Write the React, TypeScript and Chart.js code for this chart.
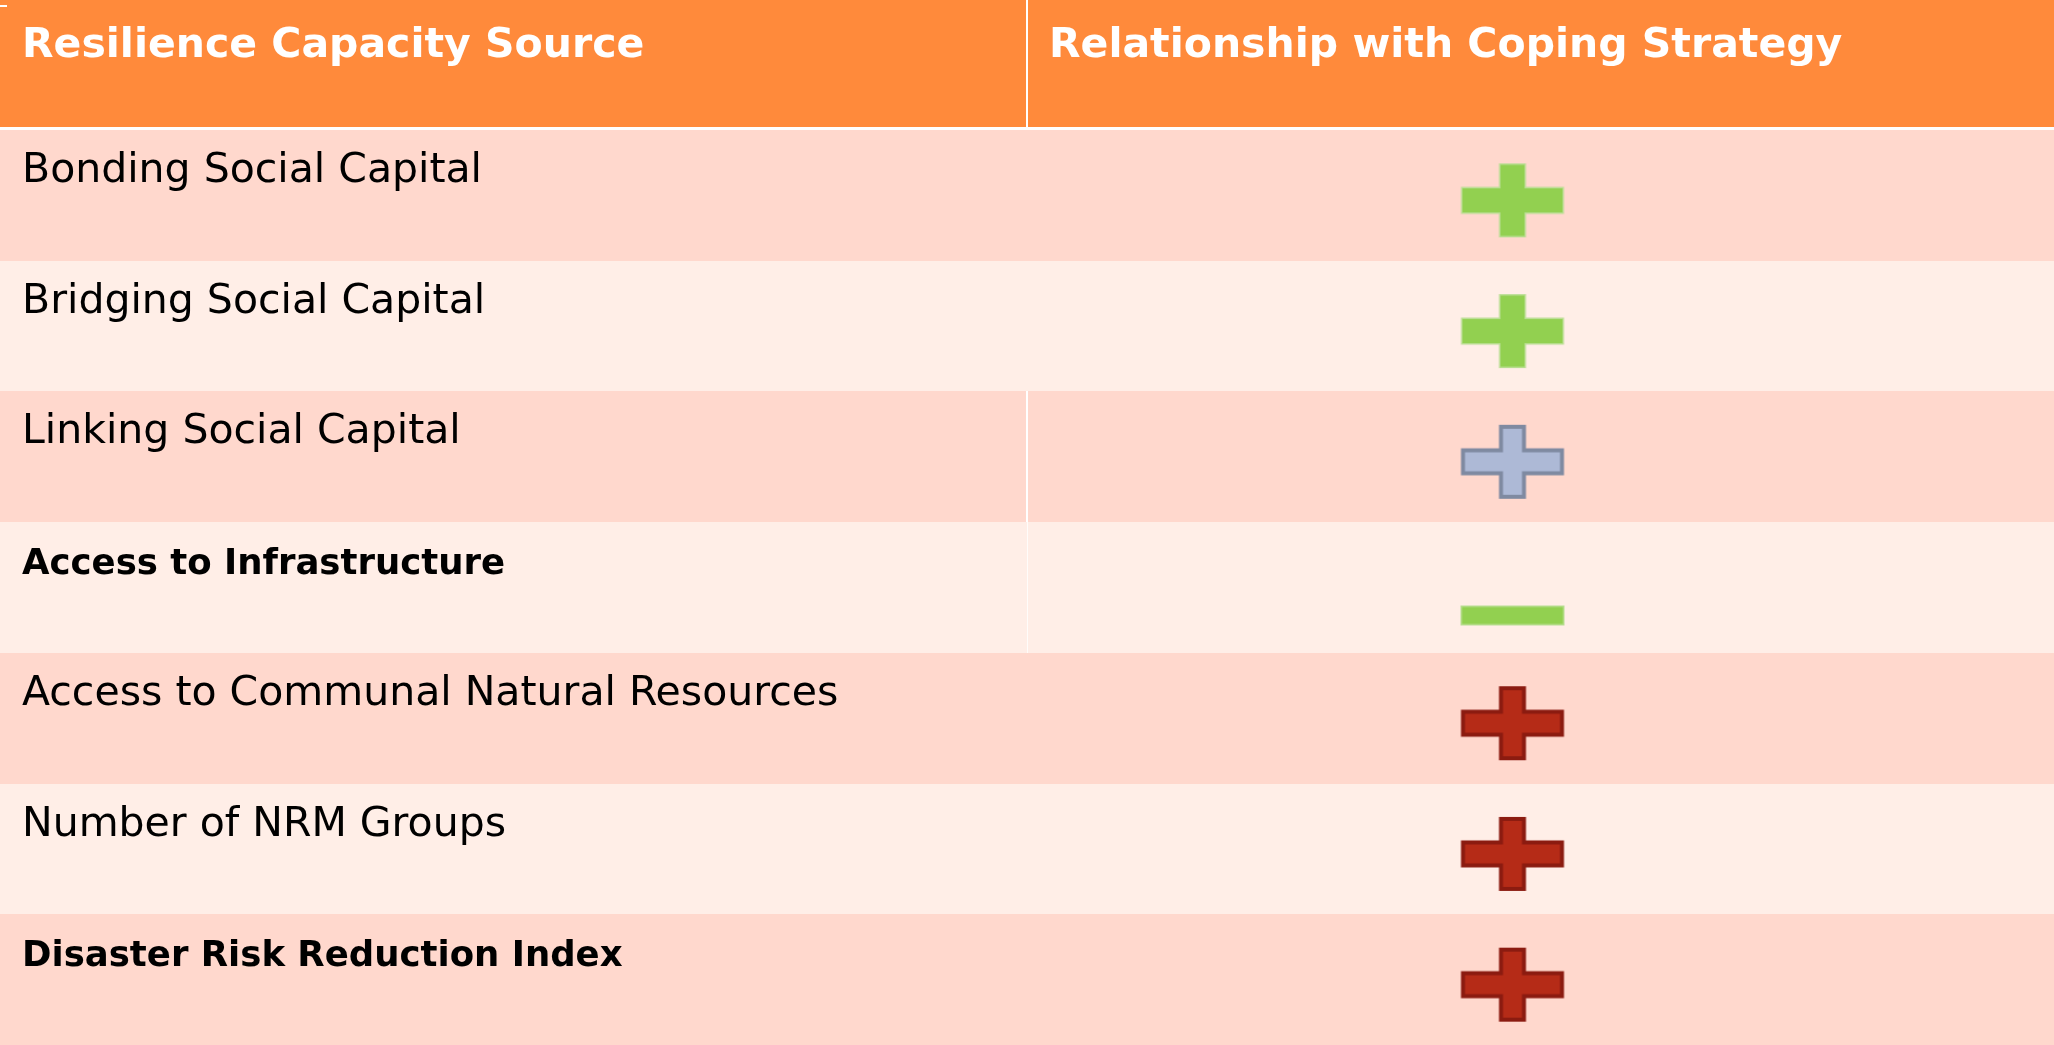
import React, { useEffect, useRef } from 'react';
import { Chart, registerables } from 'chart.js';

Chart.register(...registerables);

// ---- data ----
const columnHeaders = ['Resilience Capacity Source', 'Relationship with Coping Strategy'];
const sources = [
  'Bonding Social Capital',
  'Bridging Social Capital',
  'Linking Social Capital',
  'Access to Infrastructure',
  'Access to Communal Natural Resources',
  'Number of NRM Groups',
  'Disaster Risk Reduction Index',
];
const relationSign = ['+', '+', '+', '-', '+', '+', '+'];
const relationColour = ['green', 'green', 'blue', 'green', 'red', 'red', 'red'];
const emphasised = [false, false, false, true, false, false, true];

// ---- styles ----
const W = 2054;
const H = 1045;
const HEADER_H = 130;
const FONT = '"DejaVu Sans", "Liberation Sans", sans-serif';
const COLOURS = {
  header: '#FF8A3B',
  bandDark: '#FFD8CD',
  bandLight: '#FFEEE7',
  rule: '#FFFFFF',
};
const MARK: Record<string, { fill: string; stroke: string; lw: number }> = {
  green: { fill: '#92D050', stroke: '#B9DE92', lw: 1.5 },
  blue: { fill: '#ADB9D6', stroke: '#7F8AA1', lw: 4 },
  red: { fill: '#B52B17', stroke: '#8B1B10', lw: 4 },
};

function makeMarker(sign: string, colour: string): HTMLCanvasElement {
  const c = document.createElement('canvas');
  c.width = 240;
  c.height = 240;
  const g = c.getContext('2d')!;
  const st = MARK[colour];
  const cx = 120 - 28;
  const cy = 120 + (sign === '+' ? 5 : 28);
  const ins = st.lw / 2;
  g.beginPath();
  if (sign === '+') {
    const hw = 51.5 - ins;
    const hh = 13.5 - ins;
    const vw = 13.5 - ins;
    const vh = 37 - ins;
    g.moveTo(cx - vw, cy - vh);
    g.lineTo(cx + vw, cy - vh);
    g.lineTo(cx + vw, cy - hh);
    g.lineTo(cx + hw, cy - hh);
    g.lineTo(cx + hw, cy + hh);
    g.lineTo(cx + vw, cy + hh);
    g.lineTo(cx + vw, cy + vh);
    g.lineTo(cx - vw, cy + vh);
    g.lineTo(cx - vw, cy + hh);
    g.lineTo(cx - hw, cy + hh);
    g.lineTo(cx - hw, cy - hh);
    g.lineTo(cx - vw, cy - hh);
    g.closePath();
  } else {
    g.rect(cx - 52 + ins, cy - 10 + ins, 104 - 2 * ins, 20 - 2 * ins);
  }
  g.fillStyle = st.fill;
  g.fill();
  g.lineJoin = 'miter';
  g.lineWidth = st.lw;
  g.strokeStyle = st.stroke;
  g.stroke();
  return c;
}

const tablePlugin = {
  id: 'tableCells',
  beforeDatasetsDraw(chart: any) {
    const { ctx, chartArea, scales } = chart;
    const x = scales.x;
    const y = scales.y;
    const rowHalf = Math.abs(y.getPixelForValue(1) - y.getPixelForValue(0)) / 2;
    const colSplit = Math.round((x.getPixelForValue(0) + x.getPixelForValue(1)) / 2);
    const colLeft = [chartArea.left, colSplit];

    ctx.save();
    // header band
    ctx.fillStyle = COLOURS.header;
    ctx.fillRect(0, 0, chart.width, chartArea.top - 3);
    ctx.fillStyle = COLOURS.rule;
    ctx.fillRect(0, chartArea.top - 3, chart.width, 3);
    ctx.fillRect(colSplit - 1, 0, 2, chartArea.top - 3);
    ctx.fillRect(0, 5, 7, 2);

    // header text
    ctx.fillStyle = '#FFFFFF';
    ctx.textBaseline = 'alphabetic';
    ctx.textAlign = 'left';
    ctx.font = `bold 41px ${FONT}`;
    columnHeaders.forEach((h, i) => {
      ctx.fillText(h, colLeft[i] + 22, 57);
    });

    // row bands
    sources.forEach((s, i) => {
      const cy = y.getPixelForValue(i);
      const top = Math.round(cy - rowHalf);
      const bottom = Math.round(cy + rowHalf);
      ctx.fillStyle = i % 2 === 0 ? COLOURS.bandDark : COLOURS.bandLight;
      ctx.fillRect(chartArea.left, top, chartArea.right - chartArea.left, bottom - top);
      if (i === 2) {
        ctx.fillStyle = COLOURS.rule;
        ctx.fillRect(colSplit - 1, top, 2, bottom - top);
      } else if (i === 3) {
        ctx.fillStyle = 'rgba(255,255,255,0.8)';
        ctx.fillRect(colSplit, top, 1, bottom - top);
      }
      ctx.fillStyle = '#000000';
      ctx.font = emphasised[i] ? `bold 35.5px ${FONT}` : `41px ${FONT}`;
      ctx.fillText(s, colLeft[0] + 22, top + 52);
    });
    ctx.restore();
  },
};

export default function App() {
  const ref = useRef<HTMLCanvasElement | null>(null);

  useEffect(() => {
    document.body.style.margin = '0';
    document.body.style.overflow = 'hidden';
    const canvas = ref.current;
    if (!canvas) return;
    const markers = sources.map((_, i) => makeMarker(relationSign[i], relationColour[i]));
    const chart = new Chart(canvas, {
      type: 'scatter',
      data: {
        datasets: [
          {
            data: sources.map((s) => ({ x: columnHeaders[1], y: s })) as any,
            pointStyle: markers as any,
            pointRadius: 10,
            pointHoverRadius: 10,
            clip: false as any,
          },
        ],
      },
      options: {
        animation: false,
        responsive: false,
        devicePixelRatio: 1,
        events: [],
        layout: { autoPadding: false, padding: { top: HEADER_H, left: 0, right: 0, bottom: 0 } },
        plugins: { legend: { display: false }, tooltip: { enabled: false }, title: { display: false } },
        scales: {
          x: { type: 'category', labels: columnHeaders, offset: true, display: false },
          y: { type: 'category', labels: sources, offset: true, display: false },
        },
      },
      plugins: [tablePlugin],
    });
    return () => chart.destroy();
  }, []);

  return (
    <div style={{ width: W, height: H }}>
      <canvas ref={ref} width={W} height={H} style={{ display: 'block', width: W, height: H }} />
    </div>
  );
}
